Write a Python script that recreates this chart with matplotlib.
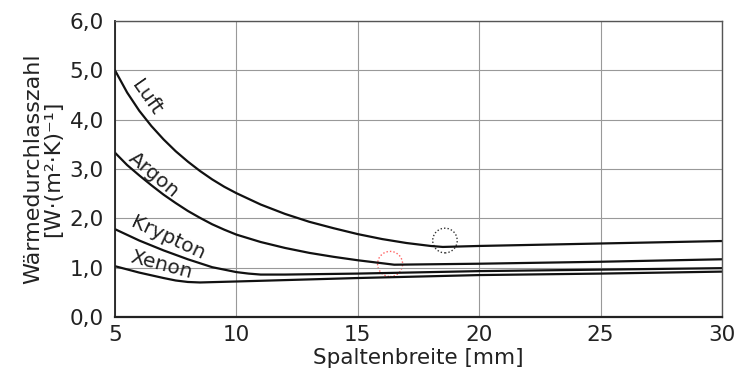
import matplotlib
matplotlib.use("Agg")
import matplotlib.pyplot as plt
from matplotlib.patches import Ellipse

plt.rcParams['font.family'] = ['DejaVu Sans']

# Data
luft_x = [5, 5.5, 6, 6.5, 7, 7.5, 8, 8.5, 9, 9.5, 10, 11, 12, 13, 14, 15, 16, 17, 18, 18.5, 20, 25, 30]
luft_y = [5.0, 4.55, 4.18, 3.87, 3.6, 3.36, 3.15, 2.96, 2.79, 2.64, 2.51, 2.28, 2.09, 1.93, 1.8, 1.68,
          1.58, 1.5, 1.44, 1.42, 1.44, 1.49, 1.54]

argon_x = [5, 5.5, 6, 6.5, 7, 7.5, 8, 8.5, 9, 9.5, 10, 11, 12, 13, 14, 15, 16, 16.5, 20, 25, 30]
argon_y = [3.33, 3.08, 2.87, 2.67, 2.48, 2.31, 2.15, 2.01, 1.88, 1.77, 1.67, 1.52, 1.4, 1.3, 1.22, 1.15,
           1.09, 1.06, 1.08, 1.12, 1.17]

krypton_x = [5, 6, 7, 8, 9, 10, 10.5, 11, 12, 15, 20, 25, 30]
krypton_y = [1.78, 1.55, 1.35, 1.17, 1.01, 0.91, 0.88, 0.86, 0.86, 0.88, 0.93, 0.96, 0.99]

xenon_x = [5, 6, 7, 7.5, 8, 8.5, 10, 15, 20, 25, 30]
xenon_y = [1.03, 0.9, 0.79, 0.74, 0.71, 0.70, 0.72, 0.79, 0.85, 0.88, 0.92]

series_names = ["Luft", "Argon", "Krypton", "Xenon"]
label_pos = [(6.3, 4.45, -55), (6.6, 2.88, -40), (7.2, 1.6, -25), (6.9, 1.06, -15)]

x_ticks = [5, 10, 15, 20, 25, 30]
y_ticks = [0, 1, 2, 3, 4, 5, 6]
y_tick_labels = ["0,0", "1,0", "2,0", "3,0", "4,0", "5,0", "6,0"]

fig = plt.figure(figsize=(7.36, 3.76), dpi=100)
ax = fig.add_axes([115/736, 59/376, 607/736, 296/376])

for xs, ys in [(luft_x, luft_y), (argon_x, argon_y), (krypton_x, krypton_y), (xenon_x, xenon_y)]:
    ax.plot(xs, ys, color='#111111', lw=1.6, solid_capstyle='round', solid_joinstyle='round')

for name, (lx, ly, rot) in zip(series_names, label_pos):
    ax.text(lx, ly, name, rotation=rot, ha='center', va='center',
            fontsize=14.5, color='#222222', rotation_mode='anchor')

# dotted marker circles
ax.add_patch(Ellipse((18.59, 1.55), 1.01, 0.50, fill=False, ls=(0, (1, 1.5)),
                     lw=1.0, edgecolor='#333333'))
ax.add_patch(Ellipse((16.33, 1.075), 1.03, 0.51, fill=False, ls=(0, (1, 1.5)),
                     lw=1.0, edgecolor='#ff6060'))

ax.set_xlim(5, 30)
ax.set_ylim(0, 6)
ax.set_xticks(x_ticks)
ax.set_xticklabels([str(t) for t in x_ticks])
ax.set_yticks(y_ticks)
ax.set_yticklabels(y_tick_labels)
ax.tick_params(length=0, labelsize=15.5, colors='#222222')
ax.tick_params(axis='y', pad=8)
ax.tick_params(axis='x', pad=6)
ax.grid(True, color='#999999', lw=0.8)
for s in ax.spines.values():
    s.set_color('#222222')
    s.set_linewidth(1.0)
ax.spines['bottom'].set_linewidth(1.6)
ax.spines['left'].set_linewidth(1.3)
ax.spines['top'].set_color('#555555')
ax.spines['right'].set_color('#555555')

ax.set_xlabel("Spaltenbreite [mm]", fontsize=15.5, color='#222222', labelpad=2)
ax.set_ylabel("Wärmedurchlasszahl\n[W·(m²·K)⁻¹]", fontsize=16, color='#222222',
              labelpad=5, linespacing=0.95)

fig.savefig("out.png", dpi=100)
